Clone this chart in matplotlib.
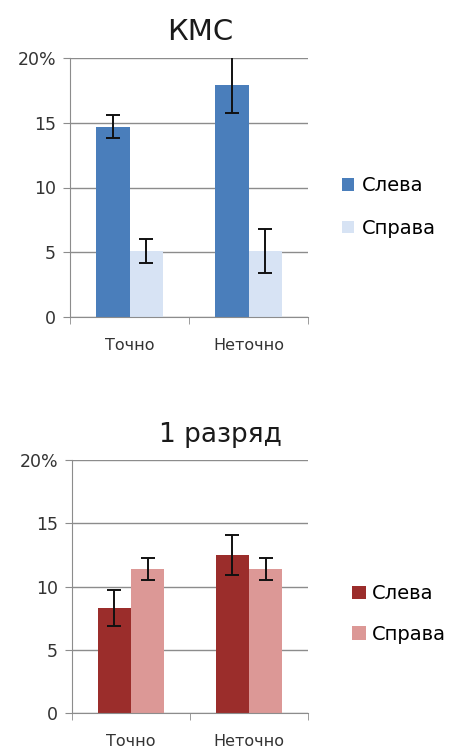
import numpy as np
import matplotlib.pyplot as plt
from matplotlib.ticker import FixedLocator, FuncFormatter

plt.rcParams['font.family'] = ['DejaVu Sans']

categories = ["Точно", "Неточно"]
series = ["Слева", "Справа"]

# КМС
kms_left = [14.7, 17.9]
kms_left_err = [0.9, 2.15]
kms_right = [5.1, 5.1]
kms_right_err = [0.95, 1.7]

# 1 разряд
r1_left = [8.3, 12.5]
r1_left_err = [1.45, 1.6]
r1_right = [11.4, 11.4]
r1_right_err = [0.85, 0.85]

y_ticks = [0, 5, 10, 15, 20]


def draw_panel(ax, left, left_err, right, right_err, colors):
    x = np.arange(len(categories))
    w = 0.28
    ax.bar(x - w / 2, left, w, color=colors[0], label=series[0], zorder=2)
    ax.bar(x + w / 2, right, w, color=colors[1], label=series[1], zorder=2)
    ax.errorbar(x - w / 2, left, yerr=left_err, fmt='none', ecolor='#111111',
                elinewidth=1.4, capsize=5, capthick=1.4, zorder=3)
    ax.errorbar(x + w / 2, right, yerr=right_err, fmt='none', ecolor='#111111',
                elinewidth=1.4, capsize=5, capthick=1.4, zorder=3)

    ax.set_xlim(-0.5, len(categories) - 0.5)
    ax.set_ylim(0, 20)
    ax.yaxis.set_major_locator(FixedLocator(y_ticks))
    ax.yaxis.set_major_formatter(FuncFormatter(lambda v, p: "20%" if v == 20 else f"{v:g}"))
    ax.grid(axis='y', color='#8c8c8c', linewidth=1, zorder=0)
    ax.set_axisbelow(True)

    ax.set_xticks(x)
    ax.set_xticklabels(categories)
    ax.set_xticks([-0.5, 0.5, 1.5], minor=True)
    ax.tick_params(axis='x', which='major', length=0, pad=15, labelsize=11.5, labelcolor='#333333')
    ax.tick_params(axis='x', which='minor', length=5, color='#8c8c8c')
    ax.tick_params(axis='y', length=5, color='#8c8c8c', labelsize=12.5, labelcolor='#333333', pad=5)

    for s in ['top', 'right']:
        ax.spines[s].set_visible(False)
    ax.spines['left'].set_color('#8c8c8c')
    ax.spines['bottom'].set_color('#8c8c8c')


fig = plt.figure(figsize=(4.57, 7.55), dpi=100)

ax1 = fig.add_axes([70 / 457, 1 - 317 / 755, 238 / 457, 259 / 755])
draw_panel(ax1, kms_left, kms_left_err, kms_right, kms_right_err, ['#4a7ebb', '#d7e3f4'])
fig.text(200 / 457, 1 - 32 / 755, "КМС", fontsize=21, ha='center', va='center', color='#1a1a1a')
fig.legend(*ax1.get_legend_handles_labels(), loc='center left',
           bbox_to_anchor=(342 / 457, 1 - 207 / 755), frameon=False, fontsize=14,
           labelspacing=1.2, handlelength=0.6, handleheight=0.6, handletextpad=0.4,
           borderpad=0, borderaxespad=0)

ax2 = fig.add_axes([72 / 457, 1 - 713 / 755, 236 / 457, 253 / 755])
draw_panel(ax2, r1_left, r1_left_err, r1_right, r1_right_err, ['#9b2d2b', '#dc9896'])
fig.text(220 / 457, 1 - 435 / 755, "1 разряд", fontsize=19, ha='center', va='center', color='#1a1a1a')
fig.legend(*ax2.get_legend_handles_labels(), loc='center left',
           bbox_to_anchor=(352 / 457, 1 - 614 / 755), frameon=False, fontsize=14,
           labelspacing=1.1, handlelength=0.7, handleheight=0.7, handletextpad=0.3,
           borderpad=0, borderaxespad=0)

fig.savefig("out.png", dpi=100)
